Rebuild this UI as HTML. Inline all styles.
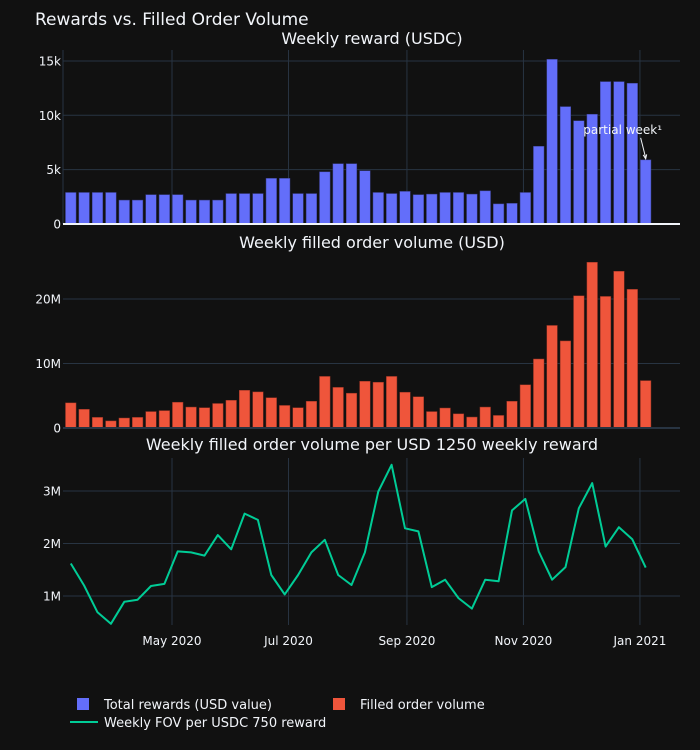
<!DOCTYPE html>
<html><head><meta charset="utf-8"><style>
html,body{margin:0;padding:0;background:#111111;}
svg{display:block;font-family:"DejaVu Sans","Liberation Sans",sans-serif;}
</style></head><body>
<svg id="chart" width="700" height="750" viewBox="0 0 700 750">
<rect width="700" height="750" fill="#111111"/>
<text x="35" y="25" fill="#f2f5fa" font-size="17">Rewards vs. Filled Order Volume</text>
<text x="372" y="44" fill="#f2f5fa" font-size="16" text-anchor="middle">Weekly reward (USDC)</text>
<text x="372" y="248" fill="#f2f5fa" font-size="16" text-anchor="middle">Weekly filled order volume (USD)</text>
<text x="372" y="450" fill="#f2f5fa" font-size="16" text-anchor="middle">Weekly filled order volume per USD 1250 weekly reward</text>
<g id="g"></g>
<g>
<rect x="77" y="698" width="12" height="12" fill="#636efa"/>
<text x="104" y="709" fill="#f2f5fa" font-size="13">Total rewards (USD value)</text>
<rect x="333" y="698" width="12" height="12" fill="#ef553b"/>
<text x="360" y="709" fill="#f2f5fa" font-size="13">Filled order volume</text>
<line x1="70" y1="722" x2="98" y2="722" stroke="#00cc96" stroke-width="2"/>
<text x="104" y="727" fill="#f2f5fa" font-size="13">Weekly FOV per USDC 750 reward</text>
</g>
</svg>
<script>
const startDate = "2020-03-09";
const rewards = [2.9,2.9,2.9,2.9,2.2,2.2,2.7,2.7,2.7,2.2,2.2,2.2,2.8,2.8,2.8,4.2,4.2,2.8,2.8,4.8,5.55,5.55,4.9,2.9,2.8,3.0,2.7,2.75,2.9,2.9,2.75,3.05,1.85,1.9,2.9,7.15,15.15,10.8,9.5,10.1,13.1,13.1,12.95,5.9];
const volume = [3.9,2.9,1.65,1.1,1.55,1.65,2.55,2.7,4.0,3.25,3.15,3.8,4.3,5.85,5.6,4.7,3.5,3.15,4.15,8.0,6.3,5.4,7.25,7.1,8.0,5.55,4.85,2.55,3.1,2.2,1.7,3.25,1.95,4.15,6.7,10.7,15.9,13.5,20.5,25.7,20.4,24.3,21.5,7.35];
const ratio = [1.62,1.2,0.69,0.47,0.89,0.93,1.19,1.23,1.85,1.83,1.77,2.16,1.89,2.57,2.45,1.40,1.03,1.40,1.83,2.07,1.40,1.21,1.83,2.99,3.50,2.29,2.23,1.17,1.31,0.96,0.76,1.31,1.28,2.63,2.85,1.85,1.31,1.55,2.67,3.15,1.94,2.31,2.08,1.54];
const rewardTicks = [0,5,10,15];
const rewardTickLabels = ["0","5k","10k","15k"];
const volTicks = [0,10,20];
const volTickLabels = ["0","10M","20M"];
const ratioTicks = [1,2,3];
const ratioTickLabels = ["1M","2M","3M"];
const dateTicks = ["2020-05-01","2020-07-01","2020-09-01","2020-11-01","2021-01-01"];
const dateTickLabels = ["May 2020","Jul 2020","Sep 2020","Nov 2020","Jan 2021"];

const NS="http://www.w3.org/2000/svg";
const g=document.getElementById('g');
const L=63,R=680;
const day=864e5, ref=Date.parse("2020-05-01");
function xd(s){return 172+(Date.parse(s)-ref)/day*1.91;}
function xi(i){return 172+(Date.parse(startDate)+i*7*day-ref)/day*1.91;}
const yR=v=>224-v*10.87;
const yV=v=>428-v*6.45;
const yQ=v=>596-(v-1)*52.5;
function el(t,a){const e=document.createElementNS(NS,t);for(const k in a)e.setAttribute(k,a[k]);g.appendChild(e);return e;}

function hgrid(ticks,labels,yf,name){ticks.forEach((t,i)=>{
 if(t!==0){const l=el('line',{x1:L,x2:R,y1:yf(t),y2:yf(t),stroke:'#283442','stroke-width':1});
 
 }
 const tx=el('text',{x:L-2,y:yf(t)+4.5,fill:'#f2f5fa','font-size':12,'text-anchor':'end'});tx.textContent=labels[i];
 
 
});}
hgrid(rewardTicks,rewardTickLabels,yR,'reward-y');
hgrid(volTicks,volTickLabels,yV,'volume-y');
hgrid(ratioTicks,ratioTickLabels,yQ,'ratio-y');
dateTicks.forEach((d,i)=>{
 [[50,224],[458,625]].forEach(([a,b])=>{const l=el('line',{x1:xd(d),x2:xd(d),y1:a,y2:b,stroke:'#283442','stroke-width':1});
 
 });
 const t=el('text',{x:xd(d),y:645,fill:'#f2f5fa','font-size':12,'text-anchor':'middle'});t.textContent=dateTickLabels[i];
 
 
});
const a1=el('line',{x1:L,x2:L,y1:50,y2:224,stroke:'#283442'});


const bw=10.6;
rewards.forEach((v,i)=>{const b=el('rect',{x:xi(i)-bw/2,y:yR(v),width:bw,height:224-yR(v),fill:'#636efa',stroke:'#3a3f88','stroke-width':0.5});
 
 });
volume.forEach((v,i)=>{const b=el('rect',{x:xi(i)-bw/2,y:yV(v),width:bw,height:428-yV(v),fill:'#ef553b',stroke:'#8a3022','stroke-width':0.5});
 
 });
const z1=el('line',{x1:L,x2:R,y1:224,y2:224,stroke:'#f2f5fa','stroke-width':2});


const z2=el('line',{x1:L,x2:R,y1:428,y2:428,stroke:'#283442','stroke-width':2});


const pl=el('polyline',{points:ratio.map((v,i)=>xi(i).toFixed(1)+','+yQ(v).toFixed(1)).join(' '),fill:'none',stroke:'#00cc96','stroke-width':2,'stroke-linejoin':'round'});


const li=rewards.length-1, ax=xi(li), ay=yR(rewards[li]);
const an=el('text',{x:ax-23,y:ay-26,fill:'#f2f5fa','font-size':12,'text-anchor':'middle'});an.textContent='partial week¹';


const ar=el('line',{x1:ax-5,x2:ax,y1:ay-22,y2:ay-2,stroke:'#f2f5fa','stroke-width':1});


const ah=el('path',{d:`M${ax-2.5},${ay-5} L${ax},${ay-1} L${ax+1},${ay-5.5}`,fill:'none',stroke:'#f2f5fa','stroke-width':1});


</script>
</body></html>
